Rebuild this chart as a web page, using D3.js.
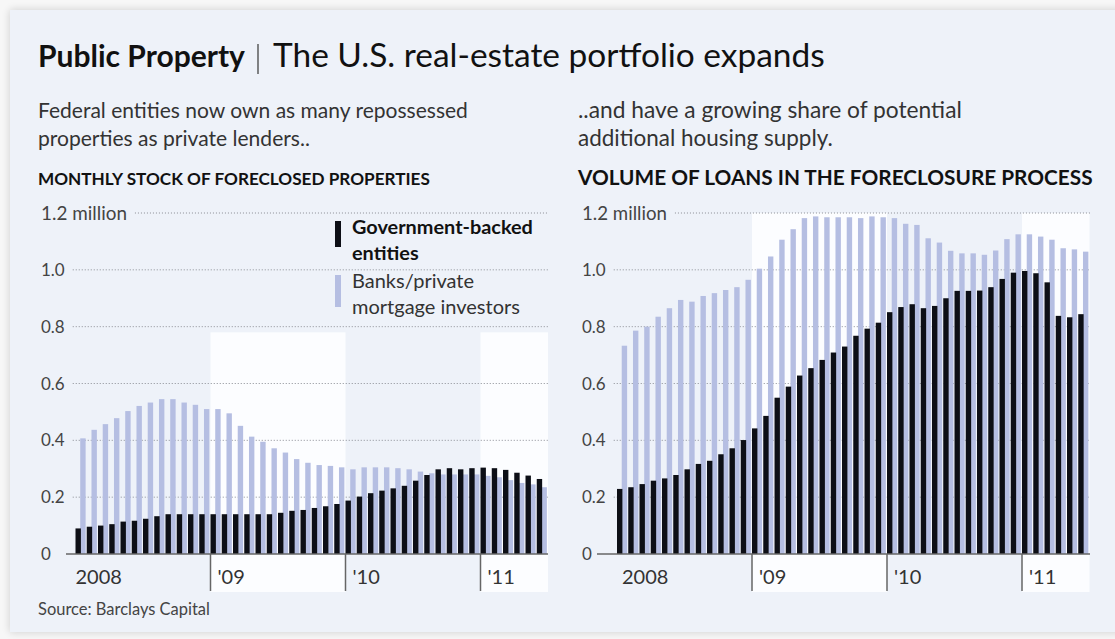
<!DOCTYPE html>
<html>
<head>
<meta charset="utf-8">
<script src="https://cdn.jsdelivr.net/npm/d3@7"></script>
<style>
  body { margin: 0; background: #f7f7f7; }
  svg { display: block; }
  text { font-family: Lato, "Noto Sans", sans-serif; }
</style>
</head>
<body>
<svg id="chart" width="1115" height="639"></svg>
<script>
// Monthly categories, Jan 2008 – Jun 2011
const months = d3.timeMonth.range(new Date(2008, 0, 1), new Date(2011, 6, 1));
const yearLabels = ["2008", "'09", "'10", "'11"];
const yTicks = [0, 0.2, 0.4, 0.6, 0.8, 1.0, 1.2];
const yTickLabels = ["0", "0.2", "0.4", "0.6", "0.8", "1.0", "1.2 million"];

// Monthly stock of foreclosed properties (millions)
const foreclosedGov = [0.09, 0.096, 0.10, 0.105, 0.114, 0.117, 0.124, 0.133, 0.14, 0.14, 0.14, 0.14,
  0.14, 0.14, 0.14, 0.14, 0.14, 0.14, 0.145, 0.152, 0.155, 0.162, 0.168, 0.176,
  0.188, 0.202, 0.214, 0.223, 0.231, 0.24, 0.258, 0.278, 0.298, 0.302, 0.298, 0.302,
  0.304, 0.302, 0.296, 0.286, 0.276, 0.264];
const foreclosedPrivate = [0.407, 0.437, 0.457, 0.478, 0.503, 0.521, 0.533, 0.545, 0.545, 0.533, 0.525, 0.51,
  0.51, 0.495, 0.451, 0.413, 0.395, 0.372, 0.357, 0.334, 0.321, 0.313, 0.31, 0.305,
  0.298, 0.305, 0.305, 0.305, 0.302, 0.298, 0.29, 0.284, 0.28, 0.28, 0.28, 0.28,
  0.275, 0.27, 0.26, 0.25, 0.245, 0.235];

// Volume of loans in the foreclosure process (millions)
const loansGov = [0.229, 0.235, 0.246, 0.258, 0.266, 0.278, 0.298, 0.317, 0.328, 0.351, 0.372, 0.401,
  0.442, 0.486, 0.55, 0.589, 0.628, 0.654, 0.683, 0.709, 0.73, 0.768, 0.793, 0.814,
  0.851, 0.869, 0.879, 0.865, 0.873, 0.9, 0.926, 0.926, 0.927, 0.939, 0.968, 0.99,
  0.996, 0.988, 0.956, 0.838, 0.833, 0.844];
const loansPrivate = [0.733, 0.786, 0.8, 0.835, 0.865, 0.894, 0.888, 0.908, 0.918, 0.929, 0.939, 0.965,
  1.004, 1.047, 1.106, 1.143, 1.182, 1.188, 1.185, 1.185, 1.185, 1.182, 1.188, 1.185,
  1.182, 1.162, 1.158, 1.111, 1.096, 1.067, 1.058, 1.058, 1.053, 1.068, 1.108, 1.125,
  1.125, 1.117, 1.106, 1.076, 1.072, 1.064];

const COLOR_GOV = "#0d0f16";
const COLOR_PRIV = "#b5bee2";
const CARD = "#eef2f9";
const BAND = "#fcfdff";

const svg = d3.select("#chart");

// drop shadow for the card
const defs = svg.append("defs");
const f = defs.append("filter").attr("id", "shadow").attr("x", -0.05).attr("y", -0.05).attr("width", 1.1).attr("height", 1.1);
f.append("feGaussianBlur").attr("in", "SourceAlpha").attr("stdDeviation", 4);
f.append("feOffset").attr("dx", 0).attr("dy", 0).attr("result", "b");
f.append("feComponentTransfer").append("feFuncA").attr("type", "linear").attr("slope", 0.18);
const m = f.append("feMerge");
m.append("feMergeNode");
m.append("feMergeNode").attr("in", "SourceGraphic");

svg.append("rect").attr("x", 10).attr("y", 10).attr("width", 1120).attr("height", 622)
  .attr("fill", CARD).attr("filter", "url(#shadow)");

// scale a text element so its rendered width equals the given width
function fitWidth(sel, width) {
  const w = sel.node().getComputedTextLength();
  const fs = parseFloat(sel.attr("font-size"));
  sel.attr("font-size", fs * width / w);
  return sel;
}

// Headline
const t1 = svg.append("text").attr("x", 38).attr("y", 67).attr("font-size", 30)
  .attr("font-weight", 700).attr("fill", "#111").text("Public Property");
fitWidth(t1, 207);
svg.append("line").attr("x1", 258).attr("x2", 258).attr("y1", 44).attr("y2", 74)
  .attr("stroke", "#444").attr("stroke-width", 1.3);
const t2 = svg.append("text").attr("x", 273).attr("y", 67).attr("font-size", 30)
  .attr("fill", "#111").text("The U.S. real-estate portfolio expands");
fitWidth(t2, 552);

function textBlock(x, lines) {
  lines.forEach(l => {
    const s = svg.append("text").attr("x", x).attr("y", l.y).attr("font-size", l.size)
      .attr("font-weight", l.bold ? 700 : 400).attr("fill", l.color).text(l.text);
    fitWidth(s, l.w);
  });
}
textBlock(38, [
  { text: "Federal entities now own as many repossessed", y: 118, size: 18, w: 430, color: "#333" },
  { text: "properties as private lenders..", y: 146, size: 18, w: 272, color: "#333" },
  { text: "MONTHLY STOCK OF FORECLOSED PROPERTIES", y: 185, size: 15, w: 392, color: "#111", bold: true }
]);
textBlock(578, [
  { text: "..and have a growing share of potential", y: 118, size: 18, w: 384, color: "#333" },
  { text: "additional housing supply.", y: 146, size: 18, w: 255, color: "#333" },
  { text: "VOLUME OF LOANS IN THE FORECLOSURE PROCESS", y: 185, size: 15, w: 515, color: "#111", bold: true }
]);

const source = svg.append("text").attr("x", 38).attr("y", 615).attr("font-size", 12)
  .attr("fill", "#444").text("Source: Barclays Capital");
fitWidth(source, 172);

function drawPanel(opt) {
  const g = svg.append("g");
  const x = d3.scaleBand().domain(months).range([opt.x0, opt.x0 + months.length * opt.step]).padding(0);
  const y = d3.scaleLinear().domain([0, 1.2]).range([554, 213]);
  const step = x.step();

  // alternating year bands
  const yearStarts = yearLabels.map((_, i) => new Date(2008 + i, 0, 1));
  yearStarts.forEach((d, i) => {
    if (i % 2 === 1) {
      const xs = x(d);
      const xe = i + 1 < yearStarts.length ? x(yearStarts[i + 1]) : opt.x0 + months.length * step;
      g.append("rect").attr("x", xs).attr("y", y(opt.bandTop)).attr("width", xe - xs)
        .attr("height", 592 - y(opt.bandTop)).attr("fill", BAND);
    }
  });

  // y labels and dotted gridlines
  yTicks.forEach((v, i) => {
    const lab = g.append("text").attr("x", opt.labelX).attr("y", y(v)).attr("dy", "0.36em")
      .attr("font-size", 17).attr("fill", "#444").text(yTickLabels[i]);
    if (i === yTicks.length - 1) fitWidth(lab, opt.topLabelW);
    const lw = lab.node().getComputedTextLength();
    if (v > 0) {
      g.append("line").attr("x1", opt.labelX + lw + 8).attr("x2", opt.gridEnd)
        .attr("y1", y(v)).attr("y2", y(v))
        .attr("stroke", "#8a8d94").attr("stroke-width", 1).attr("stroke-dasharray", "1,2");
    }
  });

  // bars: private lenders behind, government-backed in front
  g.append("g").selectAll("rect").data(months).join("rect")
    .attr("x", d => x(d) + step * 0.42).attr("width", step * 0.48)
    .attr("y", (d, i) => y(opt.priv[i])).attr("height", (d, i) => y(0) - y(opt.priv[i]))
    .attr("fill", COLOR_PRIV);
  g.append("g").selectAll("rect").data(months).join("rect")
    .attr("x", d => x(d)).attr("width", step * 0.48)
    .attr("y", (d, i) => y(opt.gov[i])).attr("height", (d, i) => y(0) - y(opt.gov[i]))
    .attr("fill", COLOR_GOV);

  // baseline
  g.append("line").attr("x1", opt.axisStart).attr("x2", opt.gridEnd)
    .attr("y1", y(0)).attr("y2", y(0)).attr("stroke", "#666").attr("stroke-width", 1.5);

  // year ticks and labels
  yearStarts.forEach((d, i) => {
    const xs = x(d);
    if (i > 0) {
      g.append("line").attr("x1", xs).attr("x2", xs).attr("y1", y(0)).attr("y2", 591)
        .attr("stroke", "#666").attr("stroke-width", 1.5);
    }
    g.append("text").attr("x", xs + (i === 0 ? opt.firstLabelDx : 7)).attr("y", 584)
      .attr("font-size", 20).attr("fill", "#333").text(yearLabels[i]);
  });
  return { x, y };
}

drawPanel({ x0: 75.5, step: 11.25, gov: foreclosedGov, priv: foreclosedPrivate,
  bandTop: 0.78, labelX: 41, gridEnd: 548, axisStart: 66, firstLabelDx: 0, topLabelW: 86 });
drawPanel({ x0: 617, step: 11.25, gov: loansGov, priv: loansPrivate,
  bandTop: 1.2, labelX: 582, gridEnd: 1090, axisStart: 597, firstLabelDx: 5, topLabelW: 85 });

// legend
const lg = svg.append("g");
const legendItems = [
  { color: COLOR_GOV, lines: ["Government-backed", "entities"], bold: true, y: 221, h: 26, w: 181, fitLine: 0 },
  { color: COLOR_PRIV, lines: ["Banks/private", "mortgage investors"], bold: false, y: 275, h: 32, w: 168, fitLine: 1 }
];
legendItems.forEach(it => {
  const texts = it.lines.map((l, j) => lg.append("text").attr("x", 352).attr("y", it.y + 13 + j * 26)
    .attr("font-size", 16).attr("font-weight", it.bold ? 700 : 400)
    .attr("fill", it.bold ? "#111" : "#333").text(l));
  const ref = texts[it.fitLine];
  const fs = 16 * it.w / ref.node().getComputedTextLength();
  texts.forEach(t => t.attr("font-size", fs));
  lg.append("rect").attr("x", 335).attr("y", it.y).attr("width", 6).attr("height", it.h).attr("fill", it.color);
});
</script>
</body>
</html>
